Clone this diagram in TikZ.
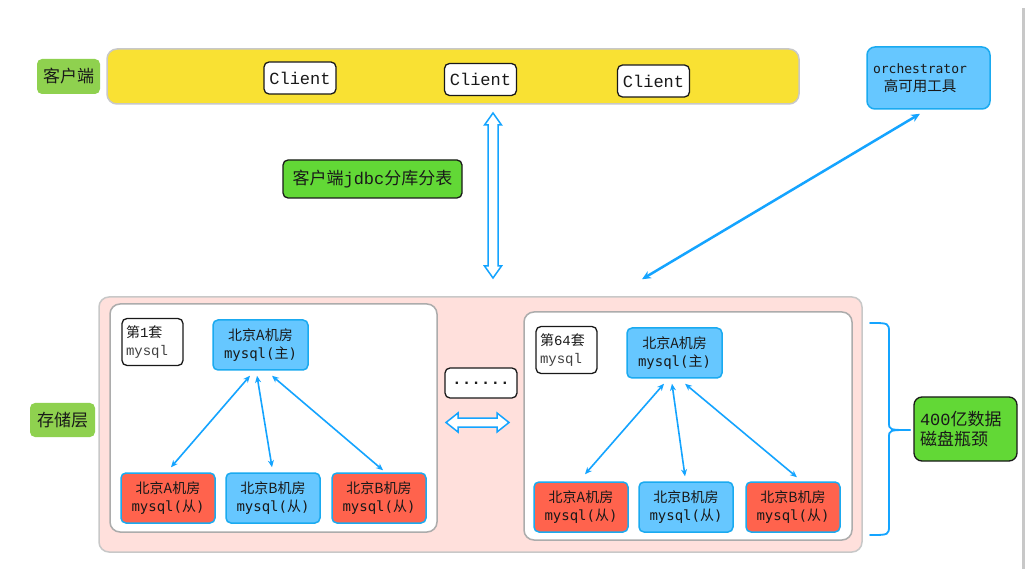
\documentclass[tikz,border=0pt]{standalone}
\usepackage{fontspec}
\setmainfont{Noto Sans CJK SC}
\newfontfamily\dmono{DejaVu Sans Mono}
\newfontfamily\lmono{Liberation Mono}
\usetikzlibrary{arrows.meta}
\definecolor{barY}{RGB}{249,225,51}
\definecolor{lblG}{RGB}{143,209,79}
\definecolor{brG}{RGB}{98,216,54}
\definecolor{nodeB}{RGB}{102,199,255}
\definecolor{edgeB}{RGB}{26,170,240}
\definecolor{nodeR}{RGB}{255,99,77}
\definecolor{arrB}{RGB}{20,164,255}
\definecolor{pinkF}{RGB}{255,224,220}
\definecolor{grayE}{RGB}{200,200,200}
\definecolor{txt}{RGB}{25,25,25}
\tikzset{
  box/.style={draw, rounded corners=5pt, line width=1.3pt, text=txt},
  lbl/.style={box, draw=none, fill=lblG, font=\fontsize{17}{20}\selectfont},
  clientbox/.style={box, draw=txt, fill=white, minimum width=72pt, minimum height=32pt, font=\lmono\fontsize{17}{20}\selectfont},
  greenbox/.style={box, draw=txt, fill=brG, font=\fontsize{17}{20}\selectfont},
  setbox/.style={box, draw=txt, fill=white, minimum width=61pt, minimum height=47pt, inner xsep=4pt, text width=53pt, align=left, font=\fontsize{14}{18}\selectfont},
  dbnode/.style={box, draw=edgeB, line width=1.5pt, minimum width=94pt, minimum height=50pt, align=center, font=\fontsize{14}{18}\selectfont},
  master/.style={dbnode, fill=nodeB, minimum width=95pt},
  slaveB/.style={dbnode, fill=nodeB},
  slaveR/.style={dbnode, fill=nodeR},
  container/.style={draw=grayE, line width=1.5pt, rounded corners=10pt},
  link/.style={draw=arrB, line width=1.6pt, {Stealth[length=7pt,width=6pt]}-{Stealth[length=7pt,width=6pt]}},
  hollow/.style={draw=arrB, line width=1.5pt, fill=white, line join=miter},
}
\newcommand{\ms}[1]{{\dmono #1}}
\begin{document}
\begin{tikzpicture}[x=1pt,y=-1pt]
\useasboundingbox (0,0) rectangle (1026,569);
\fill[white] (0,0) rectangle (1026,569);
\fill[grayE] (1022,8) rectangle (1025,569);

% client layer
\node[lbl, minimum width=63pt, minimum height=35pt] (lc) at (68.5,76.5) {客户端};
\node[container, fill=barY, minimum width=692pt, minimum height=55pt] (bar) at (453,76.5) {};
\node[clientbox] (c1) at (300,78) {Client};
\node[clientbox] (c2) at (480.5,79.5) {Client};
\node[clientbox] (c3) at (653.5,81) {Client};

\node[greenbox, minimum width=179pt, minimum height=38pt] (jdbc) at (372.5,179) {客户端{\lmono jdbc}分库分表};

% orchestrator
\node[box, draw=edgeB, line width=1.5pt, fill=nodeB, rounded corners=8pt, minimum width=123pt, minimum height=62pt] (orch) at (928.5,78) {};
\node[align=center, inner sep=0pt, text=txt, font=\fontsize{14.5}{18}\selectfont] (orchtxt) at ([xshift=-8.5pt]orch.center) {{\dmono\fontsize{13}{18}\selectfont orchestrator}\\高可用工具};

% storage layer
\node[lbl, minimum width=65pt, minimum height=34pt] (ls) at (62.5,420) {存储层};
\node[container, fill=pinkF, minimum width=763pt, minimum height=255pt] (store) at (480.5,424.5) {};
\node[container, draw=gray!65, fill=white, minimum width=327pt, minimum height=228pt] (g1) at (273.5,418) {};
\node[container, draw=gray!65, fill=white, minimum width=328pt, minimum height=228pt] (g2) at (688,426) {};

\node[box, draw=txt, fill=white, minimum width=72pt, minimum height=30pt, font=\lmono\bfseries\fontsize{16}{20}\selectfont] (dots) at (481,383) {......};

% set 1
\node[setbox] (set1) at (152.5,342) {第{\lmono 1}套\\{\lmono\color{black!75}mysql}};
\node[master] (m1) at (260.5,345) {北京A机房\\\ms{mysql(}主\ms{)}};
\node[slaveR] (s11) at (168,498) {北京A机房\\\ms{mysql(}从\ms{)}};
\node[slaveB] (s12) at (273,498) {北京B机房\\\ms{mysql(}从\ms{)}};
\node[slaveR] (s13) at (379,498) {北京B机房\\\ms{mysql(}从\ms{)}};

% set 64
\node[setbox] (set64) at (566.5,350) {第{\lmono 64}套\\{\lmono\color{black!75}mysql}};
\node[master] (m2) at (674.5,353) {北京A机房\\\ms{mysql(}主\ms{)}};
\node[slaveR] (s21) at (581,507) {北京A机房\\\ms{mysql(}从\ms{)}};
\node[slaveB] (s22) at (686,507) {北京B机房\\\ms{mysql(}从\ms{)}};
\node[slaveR] (s23) at (793,507) {北京B机房\\\ms{mysql(}从\ms{)}};

\node[greenbox, rounded corners=8pt, minimum width=103pt, minimum height=64pt, inner xsep=6pt, text width=91pt, align=left] (big) at (965.5,429) {{\lmono 400}亿数据\\磁盘瓶颈};

% connectors
\draw[link] ([xshift=-10.5pt,yshift=-5pt]m1.south) -- ([xshift=3pt,yshift=5pt]s11.north);
\draw[link] ([xshift=-3.5pt,yshift=-5pt]m1.south) -- ([xshift=-1pt,yshift=5pt]s12.north);
\draw[link] ([xshift=11.5pt,yshift=-5pt]m1.south) -- ([xshift=4pt,yshift=2pt]s13.north);
\draw[link] ([xshift=-10.5pt,yshift=-5pt]m2.south) -- ([xshift=4pt,yshift=7pt]s21.north);
\draw[link] ([xshift=-2.5pt,yshift=-5pt]m2.south) -- ([xshift=-1pt,yshift=5pt]s22.north);
\draw[link] ([xshift=10.5pt,yshift=-5pt]m2.south) -- ([xshift=4pt,yshift=4pt]s23.north);
\draw[draw=arrB, line width=2.5pt, {Stealth[length=9pt,width=8pt]}-{Stealth[length=9pt,width=8pt]}] ([xshift=-8.5pt,yshift=-4pt]orch.south) -- ([xshift=161.5pt,yshift=17pt]store.north);

% hollow double arrows
\draw[hollow] (493,113) -- (501.5,125) -- (498,125) -- (498,266) -- (501.5,266) -- (493,278) -- (484.5,266) -- (488,266) -- (488,125) -- (484.5,125) -- cycle;
\draw[hollow] (446,422.5) -- (458,413) -- (458,418) -- (497,418) -- (497,413) -- (509,422.5) -- (497,432) -- (497,427) -- (458,427) -- (458,432) -- cycle;

% brace
\draw[arrB, line width=1.8pt, line cap=round] (870,323) .. controls (889,323) .. (889,333) -- (889,422) .. controls (889,430) .. (910,430);
\draw[arrB, line width=1.8pt, line cap=round] (910,430) .. controls (889,430) .. (889,438) -- (889,525) .. controls (889,535) .. (870,535);
\end{tikzpicture}
\end{document}
